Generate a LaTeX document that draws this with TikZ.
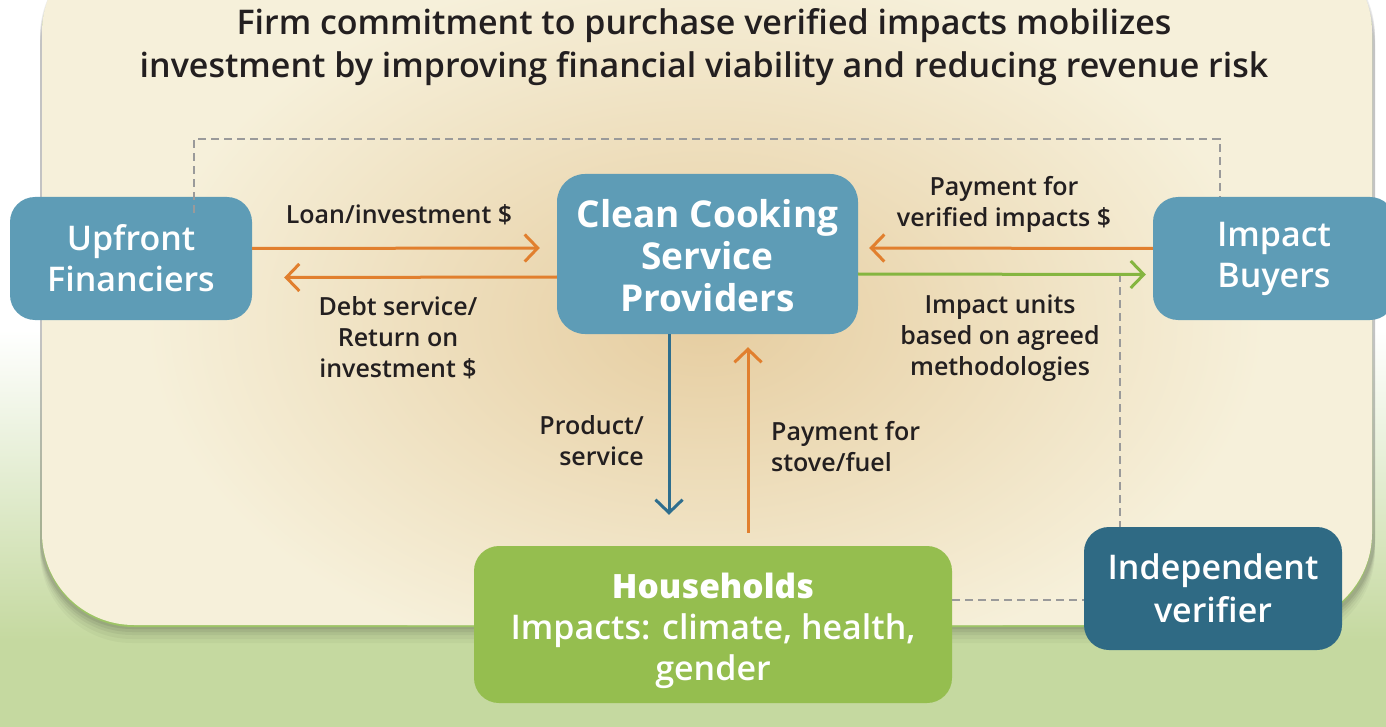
\documentclass[tikz,border=0pt]{standalone}
\usepackage{fontspec}
\setmainfont{Open Sans}
\IfFontExistsTF{Open Sans SemiBold}{\newfontfamily\semib{Open Sans SemiBold}}{%
  \IfFontExistsTF{Open Sans Semibold}{\newfontfamily\semib{Open Sans Semibold}}{\def\semib{\bfseries}}}
\usetikzlibrary{arrows.meta}
\definecolor{boxblue}{RGB}{94,156,182}
\definecolor{darkblue}{RGB}{47,106,132}
\definecolor{hhgreen}{RGB}{149,190,79}
\definecolor{arrorange}{RGB}{225,127,46}
\definecolor{arrgreen}{RGB}{133,181,64}
\definecolor{arrblue}{RGB}{46,110,142}
\definecolor{dashgray}{RGB}{154,154,154}
\definecolor{cream}{RGB}{246,240,218}
\definecolor{tan}{RGB}{230,205,160}
\definecolor{bggreen}{RGB}{197,217,160}
\definecolor{txt}{RGB}{35,31,32}
\begin{document}
\begin{tikzpicture}[x=1pt,y=-1pt,
  box/.style={rounded corners=25pt, inner sep=0pt, align=center, text=white},
  lab/.style={align=center, text=txt, inner sep=0pt, font={\fontsize{25}{31}\selectfont\semib}},
  arr/.style={line width=3pt, -{Straight Barb[length=13pt,width=27pt]}},
  dsh/.style={draw=dashgray, line width=2pt, dash pattern=on 8pt off 5pt}]
\useasboundingbox (0,0) rectangle (1386,727);
% background
\fill[white] (0,0) rectangle (1386,727);
\shade[top color=white, bottom color=bggreen] (0,330) rectangle (1386,640);
\fill[bggreen] (0,639) rectangle (1386,727);
% panel shadow
\foreach \d/\o in {18/0.03,14/0.04,10/0.05,7/0.06,4/0.07}
  \fill[black,opacity=\o,rounded corners=92pt] (40,-60+\d) rectangle (1375,625+\d);
\fill[arrgreen!80!white,rounded corners=92pt] (42,-58) rectangle (1372,627);
% panel
\fill[cream, rounded corners=92pt] (42,-60) rectangle (1372,625);
\begin{scope}
  \clip[rounded corners=92pt] (42,-60) rectangle (1372,625);
  \shade[inner color=tan, outer color=cream] (705,320) ellipse [x radius=560, y radius=360];
\end{scope}
% title
\node[align=center, text=txt, inner sep=0pt, font={\fontsize{34}{43}\selectfont\semib}] (title) at (704,47.5)
  {Firm commitment to purchase verified impacts mobilizes\\investment by improving financial viability and reducing revenue risk};
% boxes
\node[box, fill=boxblue, minimum width=242pt, minimum height=123pt, font={\fontsize{34}{41}\selectfont\semib}] (fin) at (131,258.5) {Upfront\\Financiers};
\node[box, fill=boxblue, minimum width=301pt, minimum height=160pt, rounded corners=28pt, font={\fontsize{37}{42}\selectfont\bfseries}] (ccsp) at (707.5,254) {\rule{0pt}{31pt}Clean Cooking\\Service\\Providers};
\node[box, fill=boxblue, minimum width=242pt, minimum height=123pt, font={\fontsize{34}{41}\selectfont\semib}] (buy) at (1274,258.5) {Impact\\Buyers};
\node[box, fill=hhgreen, minimum width=478pt, minimum height=157pt, font={\fontsize{34}{41}\selectfont\semib}] (hh) at (713,624.5) {\rule{0pt}{38pt}{\fontsize{33.5}{41}\selectfont\bfseries Households}\\Impacts: climate, health,\\gender};
\node[box, fill=darkblue, minimum width=258pt, minimum height=123pt, font={\fontsize{34}{43}\selectfont\semib}] (ver) at (1213,588.5) {Independent\\verifier};
% labels
\node[lab] (lloan) at (399,215) {Loan/investment \$};
\node[lab] (ldebt) at (398,338) {Debt service/\\Return on\\investment \$};
\node[lab] (lpay) at (1004,204) {Payment for\\verified impacts \$};
\node[lab] (lunits) at (1000,338) {Impact units\\based on agreed\\methodologies};
\node[lab, align=right, anchor=east] (lprod) at (644,441) {Product/\\service};
\node[lab, align=left, anchor=west] (lstove) at (771,447) {Payment for\\stove/fuel};
% dashed connectors
\coordinate (dtl) at (194,139);
\coordinate (dtr) at (1220,139);
\coordinate (gv) at (1120,274);
\draw[dsh] ([xshift=63pt,yshift=-16pt]fin.north) -- (dtl) -- (dtr) -- ([xshift=-54pt]buy.north);
\draw[dsh] (gv) -- ([xshift=-93pt]ver.north);
\draw[dsh] ([yshift=25pt]hh.east) -- ([yshift=-11pt]ver.west);
% arrows
\draw[arr, draw=arrorange] ([yshift=10pt]fin.east) -- ([yshift=6pt,xshift=-17pt]ccsp.west);
\draw[arr, draw=arrorange] ([yshift=-23pt]ccsp.west) -- ([yshift=-19pt,xshift=32pt]fin.east);
\draw[arr, draw=arrorange] ([yshift=10pt]buy.west) -- ([yshift=6pt,xshift=11pt]ccsp.east);
\draw[arr, draw=arrgreen] ([yshift=-20pt]ccsp.east) -- ([yshift=-16pt,xshift=-7pt]buy.west);
\draw[arr, draw=arrblue] ([xshift=-38.5pt]ccsp.south) -- ([xshift=-44pt,yshift=31pt]hh.north);
\draw[arr, draw=arrorange] ([xshift=35pt,yshift=13pt]hh.north) -- ([xshift=40.5pt,yshift=-13pt]ccsp.south);
\end{tikzpicture}
\end{document}
